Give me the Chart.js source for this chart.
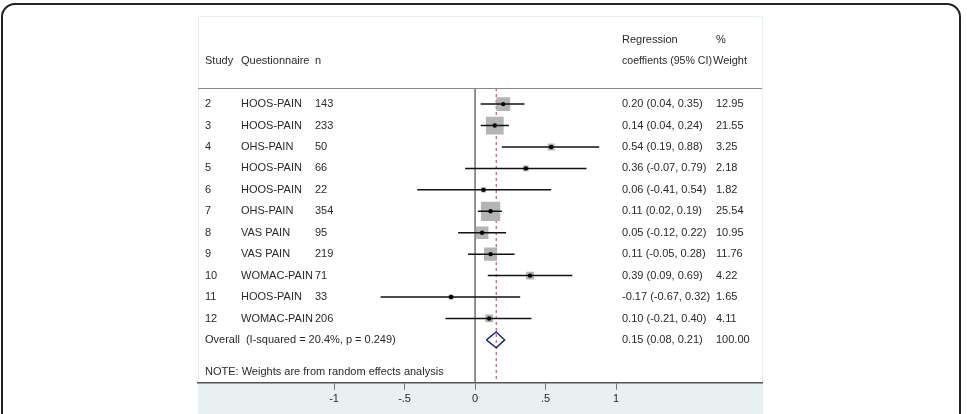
<!DOCTYPE html>
<html lang="en">
<head>
  <meta charset="UTF-8">
  <title>Forest plot</title>
  <script src="https://cdn.jsdelivr.net/npm/chart.js"></script>
  <style>
    html, body { margin: 0; padding: 0; background: #fff; overflow: hidden; }
    #frame {
      position: absolute; left: 1px; top: 3px; width: 956px; height: 520px;
      border: 2px solid #222; border-radius: 14px;
    }
    #forest { position: absolute; left: 0; top: 0; }
  </style>
</head>
<body>
  <div id="frame"></div>
  <canvas id="forest" width="967" height="414"></canvas>

  <script>
    // study rows, top to bottom
    const studies = ['2', '3', '4', '5', '6', '7', '8', '9', '10', '11', '12'];
    const questionnaires = ['HOOS-PAIN', 'HOOS-PAIN', 'OHS-PAIN', 'HOOS-PAIN', 'HOOS-PAIN', 'OHS-PAIN',
                            'VAS PAIN', 'VAS PAIN', 'WOMAC-PAIN', 'HOOS-PAIN', 'WOMAC-PAIN'];
    const sizes = [143, 233, 50, 66, 22, 354, 95, 219, 71, 33, 206];
    const coef = [0.20, 0.14, 0.54, 0.36, 0.06, 0.11, 0.05, 0.11, 0.39, -0.17, 0.10];
    const lower = [0.04, 0.04, 0.19, -0.07, -0.41, 0.02, -0.12, -0.05, 0.09, -0.67, -0.21];
    const upper = [0.35, 0.24, 0.88, 0.79, 0.54, 0.19, 0.22, 0.28, 0.69, 0.32, 0.40];
    const weights = [12.95, 21.55, 3.25, 2.18, 1.82, 25.54, 10.95, 11.76, 4.22, 1.65, 4.11];

    // pooled estimate
    const overall = [0.15, 0.08, 0.21];   // estimate, lower, upper
    const overallWeight = 100.00;
    const overallLabel = 'Overall  (I-squared = 20.4%, p = 0.249)';
    const noteLabel = 'NOTE: Weights are from random effects analysis';

    const tickValues = [-1, -0.5, 0, 0.5, 1];
    const tickLabels = ['-1', '-.5', '0', '.5', '1'];

    const FONT = '11px "Liberation Sans", Arial, sans-serif';
    const TXT = '#2a2a2a';
    const overallRow = studies.length;

    function fmtCI(c, l, u) {
      return c.toFixed(2) + ' (' + l.toFixed(2) + ', ' + u.toFixed(2) + ')';
    }

    // panel background (graph region + white plot region)
    const panelBg = {
      id: 'panelBg',
      beforeDraw(chart) {
        const ctx = chart.ctx;
        ctx.save();
        ctx.fillStyle = '#e9f0f2';
        ctx.fillRect(198, 16, 565, 400);
        ctx.fillStyle = '#fff';
        ctx.fillRect(199, 17, 563, chart.chartArea.bottom - 17);
        ctx.restore();
      }
    };

    // the text columns of the table
    const tableText = {
      id: 'tableText',
      afterDraw(chart) {
        const ctx = chart.ctx;
        const y = chart.scales.y;
        const a = chart.chartArea;
        ctx.save();
        // separator under the header
        ctx.strokeStyle = '#888';
        ctx.lineWidth = 1;
        ctx.beginPath();
        ctx.moveTo(a.left, a.top + 0.5);
        ctx.lineTo(a.right, a.top + 0.5);
        ctx.stroke();

        ctx.font = FONT;
        ctx.fillStyle = TXT;
        ctx.textBaseline = 'middle';
        ctx.textAlign = 'left';
        const h1 = y.getPixelForValue(-3);
        const h2 = y.getPixelForValue(-2);
        ctx.fillText('Regression', 622, h1);
        ctx.fillText('%', 716, h1);
        ctx.fillText('Study', 205, h2);
        ctx.fillText('Questionnaire', 241, h2);
        ctx.fillText('n', 315, h2);
        ctx.fillText('coeffients (95% CI)', 622, h2, 90);
        ctx.fillText('Weight', 713, h2);

        studies.forEach((s, i) => {
          const py = y.getPixelForValue(i);
          ctx.fillText(s, 205, py);
          ctx.fillText(questionnaires[i], 241, py);
          ctx.fillText(String(sizes[i]), 315, py);
          ctx.fillText(fmtCI(coef[i], lower[i], upper[i]), 622, py);
          ctx.fillText(weights[i].toFixed(2), 716, py);
        });
        const po = y.getPixelForValue(overallRow);
        ctx.fillText(overallLabel, 205, po);
        ctx.fillText(fmtCI(overall[0], overall[1], overall[2]), 622, po);
        ctx.fillText(overallWeight.toFixed(2), 716, po);
        ctx.fillText(noteLabel, 205, y.getPixelForValue(overallRow + 1.5));
        ctx.restore();
      }
    };

    const yTop = -0.75, yBottom = overallRow + 2;
    const datasets = [];

    // zero line and pooled-estimate line
    datasets.push({
      data: [{ x: 0, y: yTop }, { x: 0, y: yBottom }],
      showLine: true, borderColor: '#6f6f6f', borderWidth: 1.5, pointRadius: 0, order: 6
    });
    datasets.push({
      data: [{ x: overall[0], y: yTop }, { x: overall[0], y: yBottom }],
      showLine: true, borderColor: '#a3445a', borderWidth: 1, borderDash: [3, 3], pointRadius: 0, order: 5
    });

    // weight squares
    datasets.push({
      data: coef.map((c, i) => ({ x: c, y: i })),
      pointStyle: 'rect',
      pointRadius: weights.map(w => 2.7 * Math.sqrt(w)),
      backgroundColor: '#b4b4b4', borderWidth: 0, order: 4
    });

    // confidence intervals
    studies.forEach((s, i) => {
      datasets.push({
        data: [{ x: lower[i], y: i }, { x: upper[i], y: i }],
        showLine: true, borderColor: '#111', borderWidth: 1.5, pointRadius: 0, order: 3
      });
    });

    // point estimates
    datasets.push({
      data: coef.map((c, i) => ({ x: c, y: i })),
      pointStyle: 'circle', pointRadius: 2.2, backgroundColor: '#000', borderWidth: 0, order: 2
    });

    // pooled diamond
    const dh = 0.37;
    datasets.push({
      data: [
        { x: overall[1], y: overallRow },
        { x: overall[0], y: overallRow - dh },
        { x: overall[2], y: overallRow },
        { x: overall[0], y: overallRow + dh },
        { x: overall[1], y: overallRow }
      ],
      showLine: true, borderColor: '#232a7a', borderWidth: 1.5, pointRadius: 0, order: 1
    });

    new Chart(document.getElementById('forest'), {
      type: 'scatter',
      data: { datasets: datasets },
      options: {
        responsive: false,
        animation: false,
        events: [],
        layout: { padding: { left: 198, right: 205, top: 88, bottom: 5 } },
        plugins: { legend: { display: false }, tooltip: { enabled: false } },
        scales: {
          x: {
            type: 'linear',
            min: -1.965,
            max: 2.035,
            afterBuildTicks: (axis) => { axis.ticks = tickValues.map(v => ({ value: v })); },
            ticks: {
              autoSkip: false, maxRotation: 0, color: TXT, padding: 3,
              font: { family: '"Liberation Sans", Arial, sans-serif', size: 11 },
              callback: (v) => tickLabels[tickValues.indexOf(v)]
            },
            grid: { drawOnChartArea: false, drawTicks: true, tickLength: 7, tickColor: '#777' },
            border: { display: true, color: '#555', width: 1.5 }
          },
          y: {
            type: 'linear', display: false, reverse: true, min: yTop, max: yBottom
          }
        }
      },
      plugins: [panelBg, tableText]
    });
  </script>
</body>
</html>
